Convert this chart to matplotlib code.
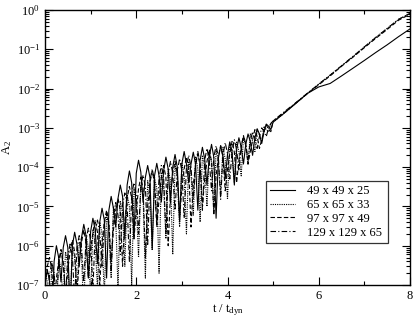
import matplotlib
matplotlib.use("Agg")
import matplotlib.pyplot as plt
from matplotlib.ticker import MultipleLocator, LogLocator, LogFormatterMathtext, NullFormatter

plt.rcParams['font.family'] = ['Liberation Serif', 'DejaVu Serif']
plt.rcParams['mathtext.fontset'] = 'custom'
plt.rcParams['mathtext.rm'] = 'Liberation Serif'
plt.rcParams['mathtext.it'] = 'Liberation Serif:italic'
plt.rcParams['mathtext.bf'] = 'Liberation Serif:bold'
plt.rcParams['axes.unicode_minus'] = False

# time grid: noisy early phase and smooth growth phase
t_noisy = [0.0, 0.05, 0.1, 0.15, 0.2, 0.25, 0.3, 0.35, 0.4, 0.45,
           0.5, 0.55, 0.6, 0.65, 0.7, 0.75, 0.8, 0.85, 0.9, 0.95,
           1.0, 1.05, 1.1, 1.15, 1.2, 1.25, 1.3, 1.35, 1.4, 1.45,
           1.5, 1.55, 1.6, 1.65, 1.7, 1.75, 1.8, 1.85, 1.9, 1.95,
           2.0, 2.05, 2.1, 2.15, 2.2, 2.25, 2.3, 2.35, 2.4, 2.45,
           2.5, 2.55, 2.6, 2.65, 2.7, 2.75, 2.8, 2.85, 2.9, 2.95,
           3.0, 3.05, 3.1, 3.15, 3.2, 3.25, 3.3, 3.35, 3.4, 3.45,
           3.5, 3.55, 3.6, 3.65, 3.7, 3.75, 3.8, 3.85, 3.9, 3.95,
           4.0, 4.05, 4.1, 4.15, 4.2, 4.25, 4.3, 4.35, 4.4, 4.45,
           4.5, 4.55, 4.6, 4.65, 4.7, 4.75, 4.8, 4.85, 4.9, 4.95]
t_smooth = [5.0, 5.25, 5.5, 5.75, 6.0, 6.25, 6.5, 6.75, 7.0, 7.25, 7.5, 7.75, 8.0]

labels = ["49 x 49 x 25", "65 x 65 x 33", "97 x 97 x 49", "129 x 129 x 65"]

a2_49 = [1e-7, 2.5e-7, 1.2e-7, 1e-8, 4e-7, 1e-6, 5e-7, 1.2e-7, 9e-7, 1.8e-6,
         9e-7, 2e-8, 1e-6, 2.2e-6, 1.1e-6, 3e-7, 1.6e-6, 3.5e-6, 1.8e-6, 1.5e-7,
         2.3e-6, 5e-6, 2.5e-6, 3.5e-7, 4e-6, 9e-6, 4.5e-6, 1.5e-7, 8e-6, 1.8e-5,
         9e-6, 3e-6, 1.6e-5, 3.5e-5, 1.8e-5, 1.5e-6, 3.5e-5, 8e-5, 4e-5, 1.5e-6,
         7e-5, 1.5e-4, 7.5e-5, 1.3e-5, 5.5e-5, 1.1e-4, 5.5e-5, 8e-7, 6e-5, 1.25e-4,
         6e-5, 1.3e-5, 8e-5, 1.8e-4, 9e-5, 1.2e-5, 1e-4, 2.1e-4, 1e-4, 4e-6,
         1.2e-4, 2.5e-4, 1.2e-4, 4e-5, 1.2e-4, 2.4e-4, 1.2e-4, 8e-6, 1.5e-4, 3.2e-4,
         1.6e-4, 3.5e-5, 1.8e-4, 3.8e-4, 1.8e-4, 5e-6, 1.7e-4, 3.5e-4, 1.9e-4, 5e-5,
         2.1e-4, 4.4e-4, 2.5e-4, 3.5e-5, 2.8e-4, 5.6e-4, 3.2e-4, 1.2e-4, 3.8e-4, 7e-4,
         4.5e-4, 2e-4, 5.5e-4, 9.5e-4, 7e-4, 4e-4, 8e-4, 1.25e-3, 1.1e-3, 9e-4,
         1.4e-3, 2.4e-3, 4.2e-3, 7.5e-3, 1.1e-2, 1.35e-2, 2.1e-2, 3.3e-2, 5.2e-2, 8.3e-2, 0.13, 0.21, 0.33]

a2_65 = [2.5e-7, 1.2e-7, 1e-8, 3.5e-7, 1.8e-7, 2e-8, 5e-7, 2.5e-7, 4e-8, 7e-7,
         3.5e-7, 3e-8, 1e-6, 5e-7, 6e-8, 1.25e-6, 6e-7, 2e-8, 1.8e-6, 9e-7,
         5e-8, 2.5e-6, 1.2e-6, 8e-8, 4e-6, 2e-6, 5e-8, 6e-6, 3e-6, 1.5e-7,
         1e-5, 5e-6, 8e-8, 1.4e-5, 7e-6, 3e-7, 2e-5, 1e-5, 1e-7, 2.8e-5,
         1.4e-5, 5e-7, 3.5e-5, 1.8e-5, 1.5e-7, 4.5e-5, 2.2e-5, 8e-7, 5.6e-5, 2.8e-5,
         2e-7, 7e-5, 3.5e-5, 1.5e-6, 9e-5, 4.5e-5, 6e-7, 1.1e-4, 5.5e-5, 3e-6,
         1.25e-4, 6e-5, 2e-6, 1.4e-4, 7e-5, 6e-6, 1.8e-4, 9e-5, 4e-6, 2e-4,
         1e-4, 1e-5, 2.5e-4, 1.3e-4, 8e-6, 2.8e-4, 1.4e-4, 2e-5, 3.2e-4, 1.6e-4,
         1.5e-5, 3.8e-4, 2e-4, 4e-5, 4.5e-4, 2.5e-4, 6e-5, 5.6e-4, 3.5e-4, 1.2e-4,
         7e-4, 4.5e-4, 2.5e-4, 9e-4, 6.5e-4, 4.5e-4, 1.1e-3, 9e-4, 8e-4, 1.3e-3,
         1.4e-3, 2.4e-3, 4.3e-3, 7.5e-3, 1.3e-2, 2.2e-2, 3.8e-2, 6.5e-2, 0.115, 0.2, 0.34, 0.58, 0.8]

a2_97 = [2e-7, 3e-7, 5e-7, 2.5e-7, 2e-8, 1.5e-7, 4e-7, 8e-7, 4e-7, 5e-8,
         2.5e-7, 7e-7, 1.4e-6, 7e-7, 6e-8, 4e-7, 1.2e-6, 2.5e-6, 1.2e-6, 1.5e-7,
         8e-7, 2.2e-6, 4.5e-6, 2.2e-6, 1e-7, 1.2e-6, 4e-6, 8e-6, 4e-6, 4e-7,
         2.5e-6, 8e-6, 1.6e-5, 8e-6, 3e-7, 4e-6, 1.6e-5, 3.2e-5, 1.6e-5, 1.5e-6,
         8e-6, 2.8e-5, 5.6e-5, 2.8e-5, 5e-7, 1e-5, 4e-5, 8e-5, 4e-5, 3e-6,
         1.5e-5, 5.5e-5, 1.1e-4, 5.5e-5, 1e-6, 2e-5, 7e-5, 1.4e-4, 7e-5, 5e-6,
         3e-5, 9e-5, 1.8e-4, 9e-5, 3e-6, 3.5e-5, 1.1e-4, 2.2e-4, 1.1e-4, 1e-5,
         5e-5, 1.4e-4, 2.8e-4, 1.4e-4, 6e-6, 6e-5, 1.8e-4, 3.5e-4, 1.8e-4, 2.5e-5,
         9e-5, 2.2e-4, 4.5e-4, 2.4e-4, 4e-5, 1.5e-4, 3.2e-4, 6.3e-4, 3.8e-4, 1.2e-4,
         2.5e-4, 5e-4, 9e-4, 6e-4, 3e-4, 5e-4, 8e-4, 1.2e-3, 9e-4, 8e-4,
         1.5e-3, 2.5e-3, 4.3e-3, 7.4e-3, 1.25e-2, 2.1e-2, 3.7e-2, 6.3e-2, 0.11, 0.19, 0.32, 0.55, 0.78]

a2_129 = [1.5e-7, 2e-8, 1.8e-7, 4e-7, 2e-7, 3e-8, 3.5e-7, 7e-7, 3.5e-7, 5e-8,
          5.5e-7, 1.1e-6, 5.5e-7, 4e-8, 9e-7, 1.8e-6, 9e-7, 1.2e-7, 1.4e-6, 2.8e-6,
          1.4e-6, 8e-8, 2.2e-6, 4.5e-6, 2.2e-6, 3e-7, 3.5e-6, 7e-6, 3.5e-6, 2e-7,
          6e-6, 1.25e-5, 6e-6, 6e-7, 1.1e-5, 2.2e-5, 1.1e-5, 4e-7, 2e-5, 4e-5,
          2e-5, 2e-6, 3.2e-5, 6.3e-5, 3.2e-5, 1e-6, 4.5e-5, 9e-5, 4.5e-5, 4e-6,
          5.5e-5, 1.1e-4, 5.5e-5, 2e-6, 7e-5, 1.4e-4, 7e-5, 8e-6, 8e-5, 1.65e-4,
          8e-5, 5e-6, 1e-4, 2e-4, 1e-4, 1.5e-5, 1.2e-4, 2.5e-4, 1.2e-4, 8e-6,
          1.5e-4, 3e-4, 1.5e-4, 2.5e-5, 1.8e-4, 3.5e-4, 1.8e-4, 1.5e-5, 2e-4, 4.2e-4,
          2.2e-4, 5e-5, 2.5e-4, 5e-4, 2.8e-4, 8e-5, 3.3e-4, 6.3e-4, 4e-4, 1.5e-4,
          4.5e-4, 8e-4, 5.5e-4, 3e-4, 6e-4, 1e-3, 8e-4, 6e-4, 1e-3, 1.3e-3,
          1.5e-3, 2.6e-3, 4.4e-3, 7.6e-3, 1.3e-2, 2.2e-2, 3.8e-2, 6.6e-2, 0.115, 0.2, 0.34, 0.58, 0.82]

t_all = t_noisy + t_smooth
series = [a2_49, a2_65, a2_97, a2_129]
styles = ['-', (0, (1, 1)), (0, (4, 2)), (0, (5, 2, 1, 2))]

fig = plt.figure(figsize=(4.15, 3.21), dpi=100)
ax = fig.add_axes([45/415, 1 - 285/321, 365/415, 275/321])

for ys, ls, lab in zip(series, styles, labels):
    ax.plot(t_all, ys, color='black', lw=0.8, linestyle=ls, label=lab)

ax.set_yscale('log')
ax.set_xlim(0, 8)
ax.set_ylim(1e-7, 1)
ax.xaxis.set_major_locator(MultipleLocator(2))
ax.xaxis.set_minor_locator(MultipleLocator(1))
ax.yaxis.set_major_locator(LogLocator(base=10, numticks=20))
ax.yaxis.set_minor_locator(LogLocator(base=10, subs=[2, 3, 4, 5, 6, 7, 8, 9], numticks=20))
ax.yaxis.set_major_formatter(LogFormatterMathtext())
ax.yaxis.set_minor_formatter(NullFormatter())
ax.tick_params(which='both', direction='in', top=True, right=True, labelsize=9, width=0.8)
ax.tick_params(which='major', length=6)
ax.tick_params(which='minor', length=3)
for sp in ax.spines.values():
    sp.set_linewidth(1.0)

ax.set_xlabel(r't / t$_{\mathrm{dyn}}$', fontsize=9, labelpad=0)
ax.set_ylabel(r'A$_2$', fontsize=9, labelpad=2)

leg = ax.legend(loc='lower left', bbox_to_anchor=(266/415, 78/321, 122/415, 60/321),
                bbox_transform=fig.transFigure, mode='expand', fontsize=9,
                frameon=True, fancybox=False, handlelength=2.0, handletextpad=0.9,
                borderpad=0.35, labelspacing=0.15, borderaxespad=0)
leg.get_frame().set_edgecolor('black')
leg.get_frame().set_linewidth(0.9)

fig.savefig('out.png', dpi=100)
